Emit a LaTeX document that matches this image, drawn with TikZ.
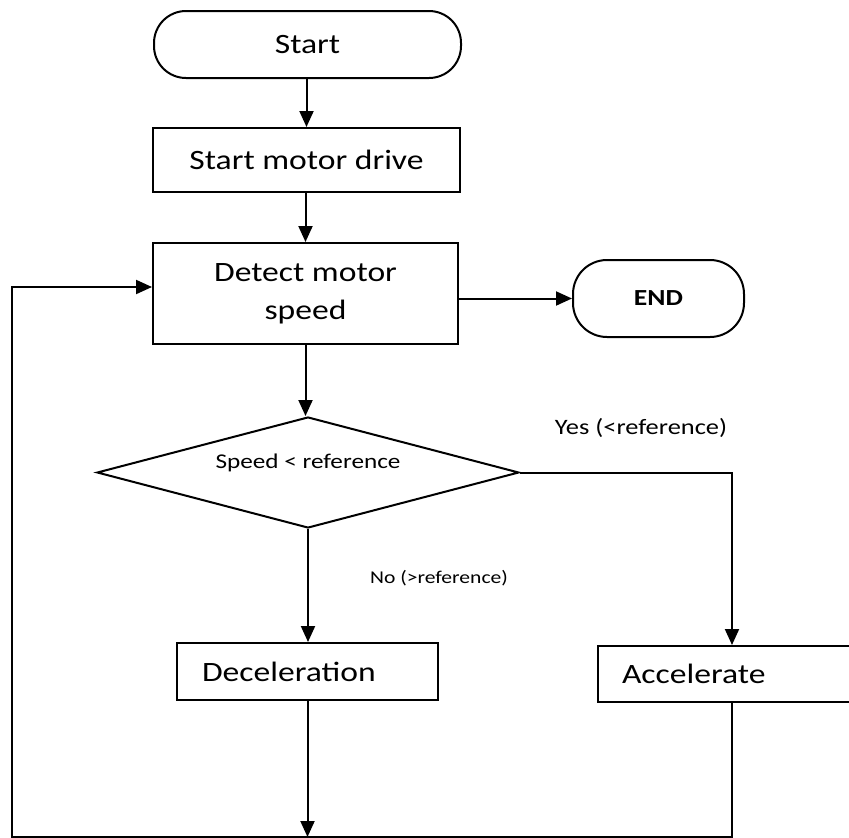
\documentclass[tikz,border=0pt]{standalone}
\usepackage{fontspec}
\setmainfont{Carlito}[FakeStretch=1.2]
\usetikzlibrary{arrows.meta,shapes.geometric}
\begin{document}
\begin{tikzpicture}[x=1pt,y=-1pt,
  line width=2pt,
  box/.style={draw,rectangle,inner sep=0pt,font=\fontsize{28}{38}\selectfont},
  term/.style={draw,rectangle,rounded corners=32pt,inner sep=0pt},
  arr/.style={-{Triangle[length=16pt,width=14pt]}},
  lbl/.style={inner sep=0pt,font=\fontsize{21}{24}\selectfont}]
\useasboundingbox (0,0) rectangle (849,838);
\clip (0,0) rectangle (849,838);
\fill[white] (0,0) rectangle (849,838);

\node[term,minimum width=307pt,minimum height=67pt,font=\fontsize{28}{32}\selectfont] (start) at (307.5,44.5) {Start};
\node[box,minimum width=307pt,minimum height=64pt] (smd) at (306.5,160) {Start motor drive};
\node[box,minimum width=305pt,minimum height=101pt,align=center] (detect) at (305.5,293.5) {Detect motor\\speed};
\node[term,minimum width=171pt,minimum height=77pt,rounded corners=34pt,font=\fontsize{23}{26}\selectfont\bfseries] (end) at (658.5,298.5) {END};
\node[draw,diamond,inner sep=0pt,minimum width=422pt,minimum height=111pt] (dia) at (308,472.5) {};
\node[lbl] (diatext) at (308,463) {Speed < reference};
\node[box,minimum height=57pt,text width=211pt,inner xsep=25pt,align=left] (dec) at (307.5,671.5) {Deceleration};
\node[box,minimum height=56pt,text width=220pt,inner xsep=24pt,align=left] (acc) at (732,674) {Accelerate};

\coordinate (lb) at (12,837);
\coordinate (lt) at (12,287);

\draw[arr] (start.south -| smd.north) -- (smd.north);
\draw[arr] (smd.south -| detect.north) -- (detect.north);
\draw[arr] (detect.east |- end) -- (end);
\draw[arr] (detect.south) -- (detect.south |- dia.north);
\draw[arr] (dia.south) -- (dia.south |- dec.north);
\draw[arr] (dia.east) -| (acc.north);
\draw[arr] (dec.south) -- (dec.south |- lb);
\draw[arr] (acc.south) -- (acc.south |- lb) -- (lb) -- (lt) -- (lt -| detect.west);

\node[lbl,font=\fontsize{22}{24}\selectfont] (yes) at (641,428) {Yes (<reference)};
\node[lbl,font=\fontsize{18}{22}\selectfont] (no) at (439,578) {No (>reference)};
\end{tikzpicture}
\end{document}
